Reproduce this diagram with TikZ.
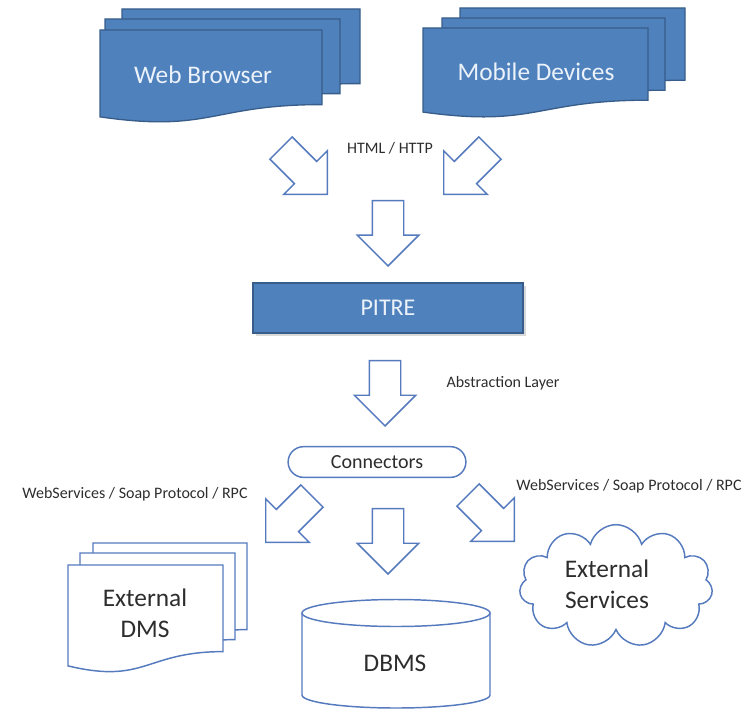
\documentclass[tikz,border=0pt]{standalone}
\usepackage{fontspec}
\setmainfont{Carlito}
\usetikzlibrary{shapes.arrows,shapes.misc,shapes.symbols,shadows}

\definecolor{officeblue}{RGB}{79,129,189}
\definecolor{officedark}{RGB}{56,93,138}
\definecolor{arrowblue}{RGB}{86,122,190}
\definecolor{textgray}{RGB}{45,45,45}
\definecolor{paletext}{RGB}{236,242,250}

% page with a wavy bottom: x0, y0 (top), x1, nominal height
\newcommand{\docpath}[4]{(#1,#2) -- (#3,#2) -- (#3,{#2+0.802*#4})
  .. controls ({(#1+#3)/2},{#2+0.802*#4}) and ({(#1+#3)/2},{#2+1.107*#4}) ..
  (#1,{#2+0.934*#4}) -- cycle}

\tikzset{
  bluedoc/.style={fill=officeblue, draw=officedark, line width=1pt},
  whitedoc/.style={fill=white, draw=arrowblue, line width=1.1pt},
  blockarrow/.style={single arrow, draw=arrowblue, fill=white, line width=1.1pt,
    minimum height=49pt, single arrow head extend=11.25pt,
    inner xsep=0pt, inner ysep=11.25pt, anchor=tip},
  whitetxt/.style={text=paletext, font=\fontsize{19}{23}\selectfont},
  lbl/.style={text=textgray, font=\fontsize{12}{14}\selectfont},
  bigtxt/.style={text=textgray, font=\fontsize{19}{23}\selectfont, align=center}
}

\begin{document}
\begin{tikzpicture}[x=0.75pt, y=-0.75pt]
    \useasboundingbox (0,0) rectangle (752,710);

    % clients
    \foreach \xa/\ya/\xb in {122/9/360, 105/19/340, 100/30/322}
        \filldraw[bluedoc] \docpath{\xa}{\ya}{\xb}{93};
    \node[whitetxt] (web) at (203,75) {Web Browser};
    \foreach \xa/\ya/\xb in {460/8/685, 442/18/665, 423/28/648}
        \filldraw[bluedoc] \docpath{\xa}{\ya}{\xb}{90};
    \node[whitetxt] (mobile) at (536,72) {Mobile Devices};

    % block arrows are placed by their tips
    \node[blockarrow, rotate=-45] (a1) at (328,195) {};
    \node[blockarrow, rotate=-135] (a2) at (443,195) {};
    \node[lbl] (http) at (390,148) {HTML / HTTP};
    \node[blockarrow, rotate=-90] (a3) at (388,267) {};

    % core
    \node[fill=officeblue, draw=officedark, line width=1pt,
        drop shadow={shadow xshift=2pt, shadow yshift=-2pt, opacity=0.3},
        minimum width=202.5pt, minimum height=37.5pt, whitetxt,
        font=\fontsize{18}{22}\selectfont] (pitre) at (388,308) {PITRE};
    \node[blockarrow, rotate=-90] (a4) at (385,427) {};
    \node[lbl] (abstr) at (503,383) {Abstraction Layer};
    \node[rounded rectangle, draw=arrowblue, fill=white, line width=1.1pt,
        minimum width=140pt, minimum height=23pt, text=textgray,
        font=\fontsize{15}{18}\selectfont] (conn) at (377,462) {Connectors};

    % back ends
    \node[blockarrow, rotate=-135] (a5) at (265,543) {};
    \node[blockarrow, rotate=-90] (a6) at (388,575) {};
    \node[blockarrow, rotate=-45] (a7) at (515,542) {};
    \node[lbl] (wsleft) at (135,494) {WebServices / Soap Protocol / RPC};
    \node[lbl] (wsright) at (629,486) {WebServices / Soap Protocol / RPC};

    \foreach \xa/\ya/\xb in {93/543/247, 80/553/235, 68/565/223}
        \filldraw[whitedoc] \docpath{\xa}{\ya}{\xb}{108};
    \node[bigtxt] (dms) at (145,613) {External\\DMS};

    \filldraw[whitedoc] (302,613) -- (302,695)
        arc[start angle=180, end angle=0, x radius=94, y radius=13] -- (490,613);
    \filldraw[whitedoc] (396,613) ellipse[x radius=94, y radius=13.5];
    \node[bigtxt] (dbms) at (395,663) {DBMS};

    \node[cloud, cloud puffs=11, cloud ignores aspect, draw=arrowblue, fill=white,
        line width=1.1pt, minimum width=145pt, minimum height=92pt] (cloud) at (616,586) {};
    \node[bigtxt] (ext) at (607,584) {External\\Services};
\end{tikzpicture}
\end{document}
